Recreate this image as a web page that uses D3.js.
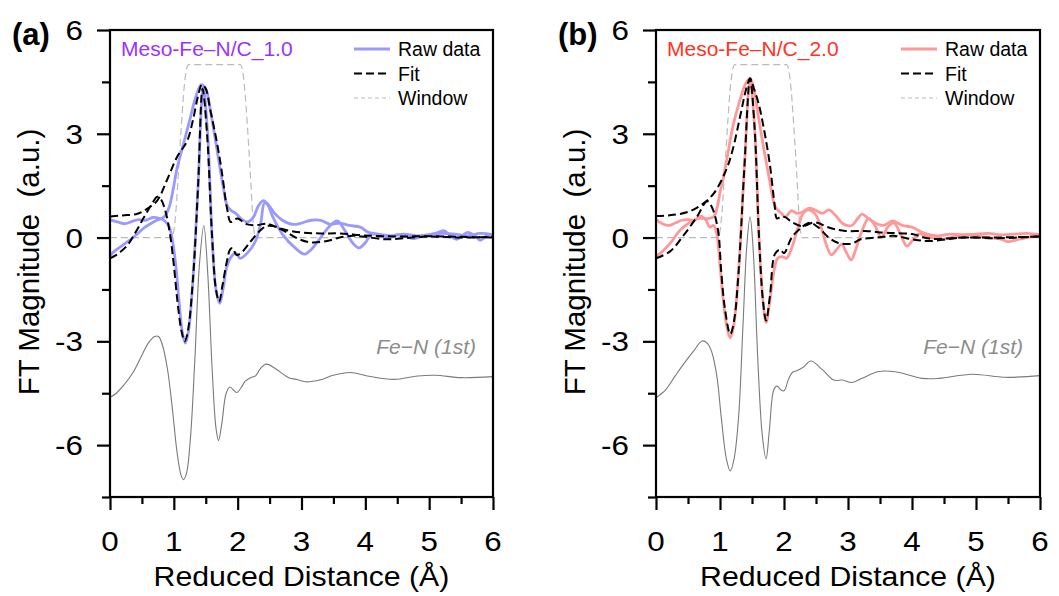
<!DOCTYPE html>
<html>
<head>
<meta charset="utf-8">
<script src="https://cdn.jsdelivr.net/npm/d3@7"></script>
<style>
  body { margin: 0; background: #fff; }
  text { font-family: Arial, "Liberation Sans", sans-serif; }
</style>
</head>
<body>
<svg id="chart" width="1059" height="596"></svg>
<script>
// ---- data (R in Angstrom, FT magnitude a.u.) ----
var xTicks = [0, 1, 2, 3, 4, 5, 6];
var yTicks = [-6, -3, 0, 3, 6];
var legendLabels = ['Raw data', 'Fit', 'Window'];

var windowCurve = [[0,0],[0.97,0],[1.02,0.5],[1.07,1.8],[1.12,3.3],[1.17,4.5],[1.23,5],[2.04,5],[2.1,4.5],[2.15,3.3],[2.2,1.8],[2.24,0.5],[2.28,0],[6,0]];

// panel (a) Meso-Fe-N/C_1.0
var rawEnvA = [[0,-0.52],[0.08,-0.38],[0.24,-0.17],[0.4,0.06],[0.55,0.3],[0.71,0.48],[0.85,0.6],[0.93,0.9],[0.99,1.4],[1.05,2.0],[1.15,2.7],[1.25,3.4],[1.35,4.1],[1.43,4.42],[1.5,4.3],[1.58,3.6],[1.68,2.5],[1.77,1.5],[1.84,0.9],[1.9,0.78],[1.97,0.7],[2.05,0.55],[2.15,0.45],[2.25,0.6],[2.32,0.9],[2.4,1.07],[2.48,0.95],[2.58,0.7],[2.7,0.5],[2.87,0.38],[3.0,0.42],[3.15,0.5],[3.3,0.5],[3.45,0.38],[3.6,0.42],[3.75,0.35],[3.92,0.3],[4.05,0.15],[4.2,0.1],[4.4,0.05],[4.6,0.1],[4.8,0.05],[5.0,0.08],[5.2,0.12],[5.4,0.1],[5.6,0.05],[5.8,0.12],[6,0.08]];
var rawOscA = [[0,0.52],[0.12,0.45],[0.24,0.4],[0.35,0.47],[0.45,0.52],[0.56,0.5],[0.67,0.58],[0.78,0.55],[0.86,0.48],[0.93,0.3],[0.98,-0.1],[1.03,-0.8],[1.08,-1.8],[1.13,-2.7],[1.18,-3.05],[1.23,-2.7],[1.3,-1.2],[1.38,1.5],[1.46,4.35],[1.53,3.0],[1.6,0.0],[1.66,-1.5],[1.72,-1.9],[1.77,-1.5],[1.83,-0.85],[1.9,-0.55],[1.97,-0.45],[2.04,-0.6],[2.15,-0.45],[2.28,-0.1],[2.36,0.4],[2.42,1.0],[2.47,0.95],[2.55,0.6],[2.7,0.1],[2.9,-0.3],[3.05,-0.48],[3.15,-0.35],[3.3,0.0],[3.45,0.35],[3.56,0.48],[3.68,0.2],[3.8,-0.15],[3.9,-0.3],[4.0,-0.15],[4.1,0.1],[4.25,0.05],[4.35,-0.02],[4.5,0.08],[4.6,0.05],[4.75,-0.03],[4.9,0.05],[5.1,0.12],[5.23,0.2],[5.33,0.05],[5.43,-0.05],[5.52,0.05],[5.6,0.15],[5.72,0.05],[5.8,-0.08],[5.9,0.05],[6,0.1]];
var fitEnvA = [[0,0.61],[0.2,0.64],[0.43,0.69],[0.58,0.83],[0.74,1.07],[0.89,1.65],[1.05,2.33],[1.21,2.8],[1.3,3.4],[1.38,4.1],[1.44,4.42],[1.5,4.3],[1.57,3.7],[1.68,2.7],[1.76,1.8],[1.83,0.88],[1.89,0.45],[1.95,0.52],[2.0,0.55],[2.15,0.38],[2.3,0.36],[2.46,0.4],[2.67,0.26],[2.98,0.15],[3.3,0.12],[3.6,0.12],[4.0,0.06],[4.5,0.03],[5.0,0.04],[5.5,0.02],[6,0.0]];
var fitOscA = [[0,-0.6],[0.1,-0.5],[0.27,-0.23],[0.4,0.15],[0.53,0.58],[0.65,0.95],[0.74,1.18],[0.8,1.1],[0.87,0.75],[0.94,0.1],[1.0,-0.8],[1.06,-1.9],[1.12,-2.7],[1.17,-3.0],[1.22,-2.7],[1.3,-1.2],[1.38,1.5],[1.45,4.3],[1.52,3.0],[1.6,0.0],[1.66,-1.5],[1.71,-1.85],[1.76,-1.4],[1.83,-0.7],[1.88,-0.35],[1.92,-0.3],[1.98,-0.5],[2.05,-0.45],[2.2,-0.12],[2.35,0.2],[2.45,0.33],[2.55,0.33],[2.72,0.2],[2.94,-0.03],[3.14,-0.14],[3.4,-0.1],[3.6,0.0],[3.8,0.05],[4.0,0.02],[4.3,-0.05],[4.6,-0.02],[5.0,0.03],[5.5,0.0],[6,0.02]];
var pathA = [[0,-4.62],[0.1,-4.5],[0.2,-4.3],[0.36,-3.9],[0.5,-3.4],[0.6,-3.05],[0.7,-2.86],[0.76,-2.86],[0.82,-3.1],[0.9,-3.8],[0.98,-5.0],[1.05,-6.2],[1.11,-6.85],[1.15,-7.0],[1.2,-6.8],[1.26,-5.8],[1.33,-3.5],[1.4,-0.8],[1.47,0.35],[1.53,-1.0],[1.6,-3.8],[1.66,-5.5],[1.7,-5.87],[1.75,-5.4],[1.82,-4.5],[1.88,-4.32],[1.93,-4.4],[1.99,-4.48],[2.05,-4.35],[2.12,-4.15],[2.2,-4.05],[2.28,-4.0],[2.35,-3.8],[2.45,-3.66],[2.6,-3.8],[2.8,-4.05],[2.92,-4.1],[3.06,-4.17],[3.3,-4.11],[3.5,-3.98],[3.77,-3.9],[4.03,-4.0],[4.45,-4.1],[4.82,-4.0],[5.1,-3.98],[5.5,-4.05],[6,-4.02]];

// panel (b) Meso-Fe-N/C_2.0
var rawEnvB = [[0,-0.55],[0.1,-0.4],[0.22,-0.17],[0.37,0.2],[0.5,0.4],[0.65,0.55],[0.8,0.55],[0.9,0.6],[0.96,0.9],[1.0,1.3],[1.05,1.7],[1.12,2.4],[1.2,3.2],[1.3,3.9],[1.4,4.45],[1.47,4.6],[1.53,4.3],[1.6,3.5],[1.7,2.4],[1.78,1.6],[1.85,0.95],[1.9,0.8],[1.96,0.7],[2.02,0.6],[2.12,0.78],[2.2,0.7],[2.3,0.75],[2.4,0.85],[2.5,0.78],[2.6,0.7],[2.7,0.8],[2.8,0.65],[2.92,0.4],[3.06,0.35],[3.15,0.55],[3.22,0.68],[3.32,0.55],[3.45,0.4],[3.55,0.35],[3.7,0.48],[3.85,0.35],[4.0,0.3],[4.2,0.12],[4.4,0.05],[4.6,0.1],[4.8,0.08],[5.0,0.1],[5.2,0.12],[5.4,0.08],[5.6,0.1],[5.8,0.12],[6,0.08]];
var rawOscB = [[0,0.52],[0.1,0.4],[0.2,0.35],[0.3,0.42],[0.4,0.5],[0.5,0.52],[0.6,0.5],[0.7,0.62],[0.78,0.5],[0.84,0.3],[0.9,0.35],[0.95,0.1],[1.0,-0.8],[1.05,-1.8],[1.11,-2.6],[1.16,-2.9],[1.21,-2.6],[1.29,-1.0],[1.38,2.0],[1.47,4.55],[1.54,3.2],[1.61,0.0],[1.67,-1.8],[1.72,-2.45],[1.78,-1.8],[1.85,-0.9],[1.9,-0.6],[1.97,-0.55],[2.04,-0.6],[2.12,-0.3],[2.22,0.3],[2.3,0.7],[2.38,0.8],[2.48,0.7],[2.58,0.3],[2.66,-0.2],[2.74,-0.5],[2.82,-0.35],[2.9,-0.2],[2.98,-0.45],[3.05,-0.65],[3.12,-0.35],[3.22,0.2],[3.32,0.55],[3.42,0.35],[3.52,0.0],[3.62,0.3],[3.72,0.42],[3.82,0.1],[3.92,-0.25],[4.0,-0.1],[4.1,0.1],[4.3,0.0],[4.5,-0.05],[4.7,0.05],[4.9,0.08],[5.0,0.05],[5.2,0.0],[5.4,-0.05],[5.5,-0.12],[5.6,-0.08],[5.8,0.0],[6,0.05]];
var fitEnvB = [[0,0.62],[0.2,0.64],[0.48,0.73],[0.69,0.92],[0.9,1.27],[1.1,1.97],[1.2,2.55],[1.32,3.55],[1.41,4.3],[1.47,4.6],[1.53,4.3],[1.6,3.9],[1.68,3.2],[1.78,2.1],[1.85,1.0],[1.89,0.55],[1.95,0.6],[2.02,0.59],[2.12,0.45],[2.28,0.33],[2.49,0.44],[2.7,0.29],[2.96,0.19],[3.27,0.19],[3.58,0.14],[4.0,0.1],[4.27,-0.03],[4.8,0.0],[5.3,0.0],[6,0.03]];
var fitOscB = [[0,-0.6],[0.22,-0.4],[0.43,0.06],[0.64,0.6],[0.8,1.05],[0.88,0.85],[0.97,0.2],[1.02,-1.0],[1.08,-2.1],[1.16,-2.79],[1.22,-2.4],[1.29,-1.0],[1.38,2.0],[1.47,4.6],[1.54,3.2],[1.61,0.0],[1.67,-1.8],[1.72,-2.4],[1.78,-1.7],[1.86,-0.47],[1.94,-0.35],[2.0,-0.45],[2.12,0.0],[2.28,0.3],[2.4,0.43],[2.53,0.3],[2.7,0.0],[2.84,-0.15],[3.05,-0.18],[3.2,-0.05],[3.46,0.0],[3.72,0.05],[4.0,-0.05],[4.27,-0.1],[4.8,0.0],[5.3,-0.02],[6,0.03]];
var pathB = [[0,-4.63],[0.15,-4.4],[0.3,-4.0],[0.43,-3.66],[0.58,-3.3],[0.72,-2.99],[0.8,-3.05],[0.87,-3.3],[0.95,-4.0],[1.02,-5.2],[1.1,-6.4],[1.16,-6.75],[1.22,-6.4],[1.29,-5.2],[1.36,-2.5],[1.42,-0.2],[1.47,0.6],[1.52,-0.4],[1.59,-3.5],[1.66,-5.7],[1.72,-6.4],[1.77,-5.6],[1.84,-4.4],[1.89,-4.29],[1.95,-4.4],[2.0,-4.43],[2.07,-4.1],[2.13,-3.9],[2.2,-3.85],[2.3,-3.75],[2.42,-3.57],[2.6,-3.82],[2.78,-4.12],[2.91,-4.12],[3.06,-4.19],[3.22,-4.07],[3.48,-3.87],[3.74,-3.88],[4.16,-4.07],[4.42,-4.07],[4.94,-3.95],[5.46,-4.04],[6,-3.99]];

var panels = [
  {tag: '(a)', name: 'Meso-Fe\u2013N/C_1.0', nameColor: '#9933ff', rawColor: '#9999ff', left: 110, right: 493,
   raw: [rawEnvA, rawOscA], fit: [fitEnvA, fitOscA], path: pathA},
  {tag: '(b)', name: 'Meso-Fe\u2013N/C_2.0', nameColor: '#ff3322', rawColor: '#ff9999', left: 656, right: 1040,
   raw: [rawEnvB, rawOscB], fit: [fitEnvB, fitOscB], path: pathB}
];

var plotTop = 30, plotBottom = 497;
var svg = d3.select('#chart');

panels.forEach(function(p) {
  var xScale = d3.scaleLinear().domain([0, 6]).range([p.left, p.right]),
      yScale = d3.scaleLinear().domain([-7.5, 6]).range([plotBottom, plotTop]);

  var line = d3.line()
      .x(function(d) { return xScale(d[0]); })
      .y(function(d) { return yScale(d[1]); })
      .curve(d3.curveCatmullRom.alpha(0.5));
  var smooth = d3.line()
      .x(function(d) { return xScale(d[0]); })
      .y(function(d) { return yScale(d[1]); })
      .curve(d3.curveMonotoneX);

  var g = svg.append('g');

  g.append('path').attr('d', smooth(windowCurve))
      .attr('fill', 'none').attr('stroke', '#bbbbbb').attr('stroke-width', 1.2).attr('stroke-dasharray', '7,4');

  g.append('path').attr('d', line(p.path))
      .attr('fill', 'none').attr('stroke', '#7a7a7a').attr('stroke-width', 1.1);

  p.raw.forEach(function(s) {
    g.append('path').attr('d', line(s))
        .attr('fill', 'none').attr('stroke', p.rawColor).attr('stroke-width', 2.8);
  });
  p.fit.forEach(function(s) {
    g.append('path').attr('d', line(s))
        .attr('fill', 'none').attr('stroke', '#000').attr('stroke-width', 2).attr('stroke-dasharray', '8,4');
  });

  // frame
  g.append('rect').attr('x', p.left).attr('y', plotTop)
      .attr('width', p.right - p.left).attr('height', plotBottom - plotTop)
      .attr('fill', 'none').attr('stroke', '#000').attr('stroke-width', 2.2);

  // axes
  var xAxis = d3.axisBottom(xScale).tickValues(d3.range(0, 6.01, 0.5))
      .tickSize(12).tickFormat('');
  var gx = g.append('g').attr('transform', 'translate(0,' + plotBottom + ')').call(xAxis);
  gx.selectAll('.tick line').attr('stroke-width', 2.2)
      .attr('y2', function(d) { return d % 1 === 0 ? 13 : 7; });
  gx.select('.domain').remove();

  var yAxis = d3.axisLeft(yScale).tickValues(d3.range(-7.5, 6.01, 1.5))
      .tickSize(12).tickFormat('');
  var gy = g.append('g').attr('transform', 'translate(' + p.left + ',0)').call(yAxis);
  gy.selectAll('.tick line').attr('stroke-width', 2.2)
      .attr('x2', function(d) { return d % 3 === 0 ? -13 : -8; });
  gy.select('.domain').remove();

  g.selectAll('.xlab').data(xTicks).enter().append('text')
      .attr('x', function(d) { return xScale(d); }).attr('y', 551)
      .attr('text-anchor', 'middle').attr('font-size', 28)
      .attr('transform', function(d) { return 'translate(' + xScale(d) + ',0) scale(1.12,1) translate(' + (-xScale(d)) + ',0)'; })
      .text(function(d) { return d; });

  g.selectAll('.ylab').data(yTicks).enter().append('text')
      .attr('x', p.left - 27).attr('y', function(d) { return yScale(d) + 10; })
      .attr('text-anchor', 'end').attr('font-size', 28)
      .attr('transform', 'translate(' + (p.left - 27) + ',0) scale(1.12,1) translate(' + (-(p.left - 27)) + ',0)')
      .text(function(d) { return d; });

  var xm = (p.left + p.right) / 2;
  g.append('text').attr('x', xm).attr('y', 586).attr('text-anchor', 'middle')
      .attr('font-size', 27.5)
      .attr('transform', 'translate(' + xm + ',0) scale(1.1,1) translate(' + (-xm) + ',0)')
      .text('Reduced Distance (\u00c5)');

  g.append('text').attr('transform', 'translate(' + (p.left - 71) + ',262) rotate(-90)')
      .attr('text-anchor', 'middle').attr('font-size', 29.5)
      .text('FT Magnitude\u00a0\u00a0(a.u.)');

  g.append('text').attr('x', p.left - 98).attr('y', 45)
      .attr('font-size', 31).attr('font-weight', 'bold').text(p.tag);

  g.append('text').attr('x', p.left + 11).attr('y', 56)
      .attr('font-size', 21).attr('fill', p.nameColor).text(p.name);

  g.append('text').attr('x', p.right - 17).attr('y', 354)
      .attr('text-anchor', 'end').attr('font-size', 21).attr('font-style', 'italic')
      .attr('fill', '#8c8c8c').text('Fe\u2212N (1st)');

  // legend
  var lx = p.right - 139;
  var styles = [
    {stroke: p.rawColor, w: 2.8, dash: null},
    {stroke: '#000', w: 2, dash: '8,4'},
    {stroke: '#bbbbbb', w: 1.2, dash: '4,3'}
  ];
  legendLabels.forEach(function(lab, i) {
    var ly = 49 + i * 24.5;
    g.append('line').attr('x1', lx).attr('x2', lx + 36).attr('y1', ly).attr('y2', ly)
        .attr('stroke', styles[i].stroke).attr('stroke-width', styles[i].w)
        .attr('stroke-dasharray', styles[i].dash);
    g.append('text').attr('x', lx + 44).attr('y', ly + 7).attr('font-size', 19.5).text(lab);
  });
});
</script>
</body>
</html>
